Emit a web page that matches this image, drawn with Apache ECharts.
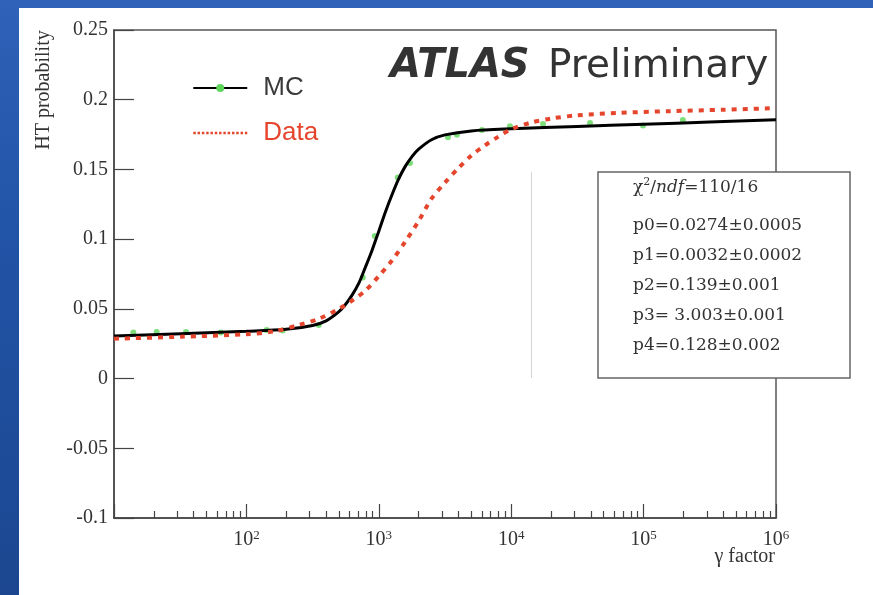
<!DOCTYPE html>
<html>
<head>
<meta charset="utf-8">
<script src="https://cdn.jsdelivr.net/npm/echarts@6/dist/echarts.min.js"></script>
<style>
  html, body { margin: 0; padding: 0; width: 873px; height: 595px; overflow: hidden;
    background: linear-gradient(180deg, #2f62b8 0%, #2153a6 40%, #1c4790 100%); }
  #chart { position: absolute; left: 19px; top: 8px; width: 854px; height: 587px; background: #fff; }
</style>
</head>
<body>
<div id="chart"></div>
<script>
// MC fit curve (black)
const mcGamma = [10, 32, 100, 200, 316, 400, 500, 560, 630, 710, 790, 890, 1000, 1120, 1260, 1410, 1580, 1780, 2000, 2500, 3160, 5000, 10000, 31600, 100000, 316000, 1000000]
const mcFit = [0.0306, 0.0322, 0.0339, 0.0353, 0.0381, 0.0414, 0.0480, 0.0531, 0.0600, 0.0688, 0.0796, 0.0921, 0.1057, 0.1193, 0.1320, 0.1430, 0.1520, 0.1592, 0.1645, 0.1713, 0.1748, 0.1776, 0.1791, 0.1808, 0.1824, 0.1840, 0.1856]

// Data fit curve (red dotted)
const dataGamma = [10, 32, 100, 160, 250, 355, 500, 630, 790, 1000, 1260, 1580, 2000, 2500, 3160, 4000, 5000, 6300, 7900, 10000, 14000, 20000, 31600, 63000, 158000, 400000, 1000000]
const dataFit = [0.0286, 0.0300, 0.0318, 0.0338, 0.0385, 0.0430, 0.0500, 0.0560, 0.0630, 0.0735, 0.0848, 0.0980, 0.1130, 0.1290, 0.1405, 0.1510, 0.1600, 0.1671, 0.1732, 0.1788, 0.1835, 0.1865, 0.1888, 0.1905, 0.1918, 0.1928, 0.1940]

// MC points (green)
const mcPointGamma = [14, 21, 35, 64, 142, 188, 352, 757, 933, 1390, 1720, 3330, 3890, 6010, 9780, 17400, 39400, 98900, 198000]
const mcPointValue = [0.0331, 0.0334, 0.0334, 0.0331, 0.0349, 0.0345, 0.0384, 0.0725, 0.1023, 0.1443, 0.1547, 0.1730, 0.1748, 0.1783, 0.1809, 0.1826, 0.1833, 0.1815, 0.1855]

// y axis ticks
const yMin = -0.1
const yMax = 0.25
const yStep = 0.05

const fitLines = ['p0=0.0274±0.0005', 'p1=0.0032±0.0002', 'p2=0.139±0.001', 'p3= 3.003±0.001', 'p4=0.128±0.002']

const pairs = (xs, ys) => xs.map((x, i) => [x, ys[i]])

const serif = 'Liberation Serif'
const chart = echarts.init(document.getElementById('chart'))

chart.setOption({
  animation: false,
  grid: {
    left: 95, top: 22, width: 662, height: 488,
    show: true, borderColor: '#555', borderWidth: 1.5,
  },
  legend: {
    orient: 'vertical',
    left: 168,
    top: 62,
    itemWidth: 54,
    itemHeight: 10,
    itemGap: 19,
    textStyle: { fontFamily: 'Liberation Sans', fontSize: 26, padding: [0, 0, 0, 11] },
    data: [
      { name: 'MC', textStyle: { color: '#3a3a3a' } },
      { name: 'Data', textStyle: { color: '#e5452d' }, itemStyle: { opacity: 0 }, lineStyle: { width: 2.5, type: [2.5, 1.8] } },
    ],
  },
  xAxis: {
    type: 'log',
    logBase: 10,
    min: 10,
    max: 1000000,
    axisLine: { onZero: false, lineStyle: { color: '#444', width: 1.5 } },
    axisTick: { inside: true, length: 14, lineStyle: { color: '#444', width: 1.2 } },
    minorTick: { show: true, splitNumber: 9, length: 7, lineStyle: { color: '#444', width: 1.2 } },
    splitLine: { show: false },
    axisLabel: {
      margin: 11,
      formatter: v => {
        const e = Math.round(Math.log10(v))
        return e < 2 ? '' : '{b|10}{s|' + e + '}'
      },
      rich: {
        b: { fontFamily: serif, fontSize: 20, color: '#333', lineHeight: 22 },
        s: { fontFamily: serif, fontSize: 13, color: '#333', lineHeight: 8, verticalAlign: 'top' },
      },
    },
  },
  yAxis: {
    type: 'value',
    min: yMin,
    max: yMax,
    interval: yStep,
    axisLine: { show: true, onZero: false, lineStyle: { color: '#444', width: 1.5 } },
    axisTick: { show: true, inside: true, length: 20, lineStyle: { color: '#444', width: 1.2 } },
    splitLine: { show: false },
    axisLabel: { margin: 6, fontFamily: serif, fontSize: 20, color: '#333' },
  },
  series: [
    {
      name: 'MC points',
      type: 'scatter',
      data: pairs(mcPointGamma, mcPointValue),
      symbol: 'circle',
      symbolSize: 6,
      itemStyle: { color: '#5fd65a' },
      z: 1,
    },
    {
      name: 'MC',
      type: 'line',
      data: pairs(mcGamma, mcFit),
      smooth: 0.3,
      symbol: 'circle',
      symbolSize: 8,
      showSymbol: false,
      itemStyle: { color: '#5fd65a' },
      lineStyle: { color: '#000', width: 3 },
      z: 2,
    },
    {
      name: 'Data',
      type: 'line',
      data: pairs(dataGamma, dataFit),
      smooth: 0.3,
      symbol: 'none',
      itemStyle: { color: '#e5452d' },
      lineStyle: { color: '#e5452d', width: 4, type: [5, 6] },
      z: 3,
    },
  ],
  graphic: [
    {
      type: 'text', x: 25, y: 82, rotation: Math.PI / 2,
      style: { text: 'HT probability', font: '20px "Liberation Serif"', fill: '#333', align: 'center', verticalAlign: 'middle' },
    },
    {
      type: 'text', x: 756, y: 549,
      style: { text: 'γ factor', font: '20px "Liberation Serif"', fill: '#333', align: 'right', verticalAlign: 'middle' },
    },
    {
      type: 'text', x: 371, y: 59,
      style: { text: 'ATLAS', font: 'italic bold 40px "DejaVu Sans"', fill: '#333', align: 'left', verticalAlign: 'middle' },
    },
    {
      type: 'text', x: 529, y: 59,
      style: { text: 'Preliminary', font: '39px "DejaVu Sans"', fill: '#333', align: 'left', verticalAlign: 'middle' },
    },
    {
      type: 'line', z: 5,
      shape: { x1: 512.5, y1: 164, x2: 512.5, y2: 370 },
      style: { stroke: '#d4d4d4', lineWidth: 1 },
    },
    {
      type: 'rect', z: 10,
      shape: { x: 579, y: 164, width: 252, height: 206 },
      style: { fill: '#fff', stroke: '#666', lineWidth: 1.5 },
    },
    {
      type: 'text', z: 11, x: 614, y: 180,
      style: {
        text: '{t|χ}{s|2}{t|/}{i|ndf}{t|=110/16}',
        verticalAlign: 'middle',
        rich: {
          t: { fontFamily: 'DejaVu Serif', fontSize: 17, fill: '#333', lineHeight: 22 },
          i: { fontFamily: 'DejaVu Serif', fontStyle: 'italic', fontSize: 17, fill: '#333', lineHeight: 22 },
          s: { fontFamily: 'DejaVu Serif', fontSize: 11, fill: '#333', lineHeight: 12, verticalAlign: 'top' },
        },
      },
    },
    {
      type: 'text', z: 11, x: 614, y: 203,
      style: { text: fitLines.join('\n'), font: '17px "DejaVu Serif"', fill: '#333', lineHeight: 30, verticalAlign: 'top' },
    },
  ],
})
</script>
</body>
</html>
